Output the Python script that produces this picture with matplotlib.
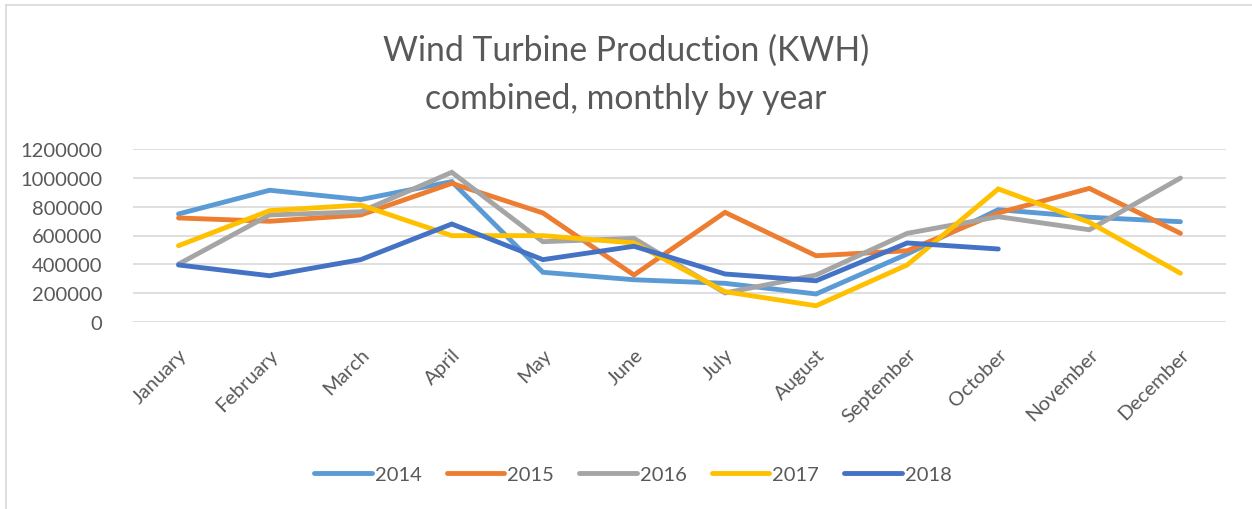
import matplotlib
matplotlib.use("Agg")
import matplotlib.pyplot as plt
from matplotlib.lines import Line2D

months = ["January", "February", "March", "April", "May", "June", "July",
          "August", "September", "October", "November", "December"]
years = ["2014", "2015", "2016", "2017", "2018"]
y2014 = [750000, 915000, 850000, 975000, 344000, 292000, 267000, 193000, 471000, 780000, 727000, 696000]
y2015 = [722000, 699000, 743000, 963000, 757000, 325000, 761000, 459000, 494000, 757000, 928000, 615000]
y2016 = [401000, 743000, 765000, 1040000, 557000, 580000, 200000, 325000, 615000, 731000, 640000, 1000000]
y2017 = [529000, 773000, 812000, 599000, 599000, 548000, 209000, 111000, 395000, 924000, 692000, 337000]
y2018 = [395000, 320000, 432000, 680000, 432000, 525000, 332000, 285000, 548000, 506000, None, None]
series = [y2014, y2015, y2016, y2017, y2018]
colors = ["#5B9BD5", "#ED7D31", "#A5A5A5", "#FFC000", "#4472C4"]
yticks = [0, 200000, 400000, 600000, 800000, 1000000, 1200000]

plt.rcParams['font.family'] = ['Lato', 'DejaVu Sans']
txt = "#595959"

fig = plt.figure(figsize=(12.52, 5.10), dpi=100)
ax = fig.add_axes([133/1252, 1-322.7/510, (1226-133)/1252, (322.7-150.3)/510])

x = list(range(len(months)))
for vals, c, lab in zip(series, colors, years):
    xs = [i for i, v in zip(x, vals) if v is not None]
    vs = [v for v in vals if v is not None]
    ax.plot(xs, vs, color=c, lw=3.5, solid_capstyle='round', solid_joinstyle='miter', label=lab, zorder=3)

ax.set_xlim(-0.5, len(months) - 0.5)
ax.set_ylim(0, 1200000)
ax.set_yticks(yticks)
ax.set_yticklabels([str(v) for v in yticks])
ax.grid(axis='y', color='#D9D9D9', lw=1.2)
ax.set_axisbelow(True)
for s in ax.spines.values():
    s.set_visible(False)
ax.tick_params(axis='both', length=0, colors=txt, labelsize=14.5)
ax.tick_params(axis='y', pad=22)
ax.set_xticks(x)
ax.set_xticklabels(months, rotation=45, ha='right', va='top', rotation_mode='anchor')
ax.tick_params(axis='x', pad=17)

fig.text(0.5, 1-51/510, "Wind Turbine Production (KWH)", ha='center', va='center',
         fontsize=24.3, color=txt)
fig.text(0.5, 1-99/510, "combined, monthly by year", ha='center', va='center',
         fontsize=24.3, color=txt)

handles = [Line2D([0], [0], color=c, lw=3.5, solid_capstyle='round') for c in colors]
fig.legend(handles, years, loc='center', bbox_to_anchor=(633/1252, 1-475/510), ncol=5,
           frameon=False, fontsize=14.5, labelcolor=txt, handlelength=2.85,
           handletextpad=0.15, columnspacing=1.25)

# chart border (left and top visible)
fig.add_artist(Line2D([6/1252, 6/1252], [0, 1-6/510], color='#D9D9D9', lw=1.2, transform=fig.transFigure))
fig.add_artist(Line2D([6/1252, 1], [1-6/510, 1-6/510], color='#D9D9D9', lw=1.2, transform=fig.transFigure))

fig.savefig("out.png", dpi=100, facecolor='white')
